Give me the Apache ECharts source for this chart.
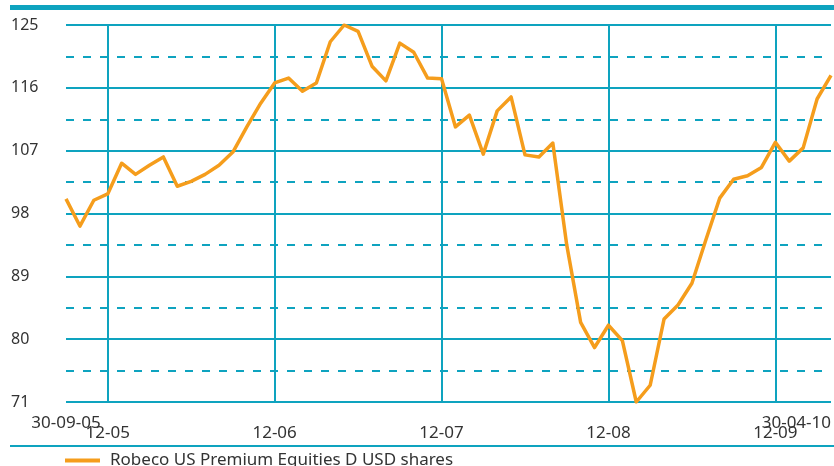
<!DOCTYPE html>
<html><head><meta charset="utf-8">
<script src="https://cdn.jsdelivr.net/npm/echarts@6/dist/echarts.min.js"></script>
<style>html,body{margin:0;padding:0;background:#fff}#c{width:834px;height:466px}</style>
</head><body><div id="c"></div>
<script>
const dates = [
  '30-09-05','31-10-05','30-11-05','31-12-05',
  '31-01-06','28-02-06','31-03-06','30-04-06','31-05-06','30-06-06','31-07-06','31-08-06','30-09-06','31-10-06','30-11-06','31-12-06',
  '31-01-07','28-02-07','31-03-07','30-04-07','31-05-07','30-06-07','31-07-07','31-08-07','30-09-07','31-10-07','30-11-07','31-12-07',
  '31-01-08','29-02-08','31-03-08','30-04-08','31-05-08','30-06-08','31-07-08','31-08-08','30-09-08','31-10-08','30-11-08','31-12-08',
  '31-01-09','28-02-09','31-03-09','30-04-09','31-05-09','30-06-09','31-07-09','31-08-09','30-09-09','31-10-09','30-11-09','31-12-09',
  '31-01-10','28-02-10','31-03-10','30-04-10'
];
const values = [
  100.1, 96.2, 99.9, 100.8,
  105.2, 103.6, 104.9, 106.1, 101.9, 102.6, 103.6, 104.9, 106.8, 110.4, 113.8, 116.7,
  117.4, 115.5, 116.7, 122.6, 125.0, 124.1, 119.1, 117.0, 122.4, 121.1, 117.4, 117.3,
  110.4, 112.1, 106.5, 112.7, 114.7, 106.4, 106.1, 108.1, 93.5, 82.4, 78.8, 82.0,
  79.8, 71.0, 73.4, 82.9, 84.9, 88.0, 94.2, 100.2, 102.9, 103.4, 104.6, 108.2,
  105.5, 107.4, 114.4, 117.8
];
const seriesName = 'Robeco US Premium Equities D USD shares';
const yTickLabels = [71, 80, 89, 98, 107, 116, 125];
const yearTickLabels = ['12-05', '12-06', '12-07', '12-08', '12-09'];
const endLabels = ['30-09-05', '30-04-10'];

const teal = '#0ea3bf';
const orange = '#f59d1c';
const textColor = '#333333';
const font = 'Noto Sans';
const yMin = yTickLabels[0], yMax = yTickLabels[yTickLabels.length - 1];
const yStep = yTickLabels[1] - yTickLabels[0];

const isYearTick = (i) => yearTickLabels.includes(dates[i].slice(3));
const isEnd = (i) => endLabels.includes(dates[i]);

const chart = echarts.init(document.getElementById('c'), null, {renderer: 'canvas'});
chart.setOption({
  animation: false,
  backgroundColor: '#ffffff',
  grid: {left: 66, right: 2, top: 25, bottom: 64, containLabel: false},
  graphic: [
    {type: 'rect', left: 10, top: 5, shape: {width: 824, height: 5}, style: {fill: teal}, silent: true},
    {type: 'rect', left: 10, top: 445, shape: {width: 824, height: 2}, style: {fill: teal}, silent: true}
  ],
  legend: {
    show: true, left: 60, top: 447, icon: 'rect', itemWidth: 35, itemHeight: 4,
    textStyle: {fontFamily: font, fontSize: 17, color: textColor, padding: [0, 0, 0, 5]},
    data: [{name: seriesName, itemStyle: {color: orange}}]
  },
  xAxis: [
    {
      type: 'category', data: dates, boundaryGap: false, position: 'bottom', z: 1,
      axisLine: {show: false}, axisTick: {show: false},
      splitLine: {show: true, interval: (i) => isYearTick(i), lineStyle: {color: teal, width: 2}},
      axisLabel: {
        show: true, interval: (i) => isYearTick(i), margin: 23,
        formatter: (v) => v.slice(3),
        fontFamily: font, fontSize: 17, color: textColor
      }
    },
    {
      type: 'category', data: dates, boundaryGap: false, position: 'bottom', offset: 0,
      axisLine: {show: false}, axisTick: {show: false}, splitLine: {show: false},
      axisLabel: {
        show: true, interval: (i) => isEnd(i), margin: 13, alignMaxLabel: 'right',
        formatter: (v) => v,
        fontFamily: font, fontSize: 17, color: textColor
      }
    }
  ],
  yAxis: [
    {
      type: 'value', min: yMin, max: yMax, interval: yStep, z: 1,
      axisLine: {show: false}, axisTick: {show: false},
      splitLine: {show: true, lineStyle: {color: teal, width: 2}},
      axisLabel: {show: true, margin: 55, align: 'left', fontFamily: font, fontSize: 16, color: textColor}
    },
    {
      type: 'value', min: yMin, max: yMax, interval: yStep / 2, z: 0,
      axisLine: {show: false}, axisTick: {show: false}, axisLabel: {show: false},
      splitLine: {show: true, lineStyle: {color: teal, width: 2, type: [8, 9]}}
    }
  ],
  series: [{
    name: seriesName, type: 'line', data: values, xAxisIndex: 0, yAxisIndex: 0,
    showSymbol: false, symbol: 'none', z: 3,
    lineStyle: {color: orange, width: 3.5, join: 'round'},
    itemStyle: {color: orange}
  }]
});
</script></body></html>
